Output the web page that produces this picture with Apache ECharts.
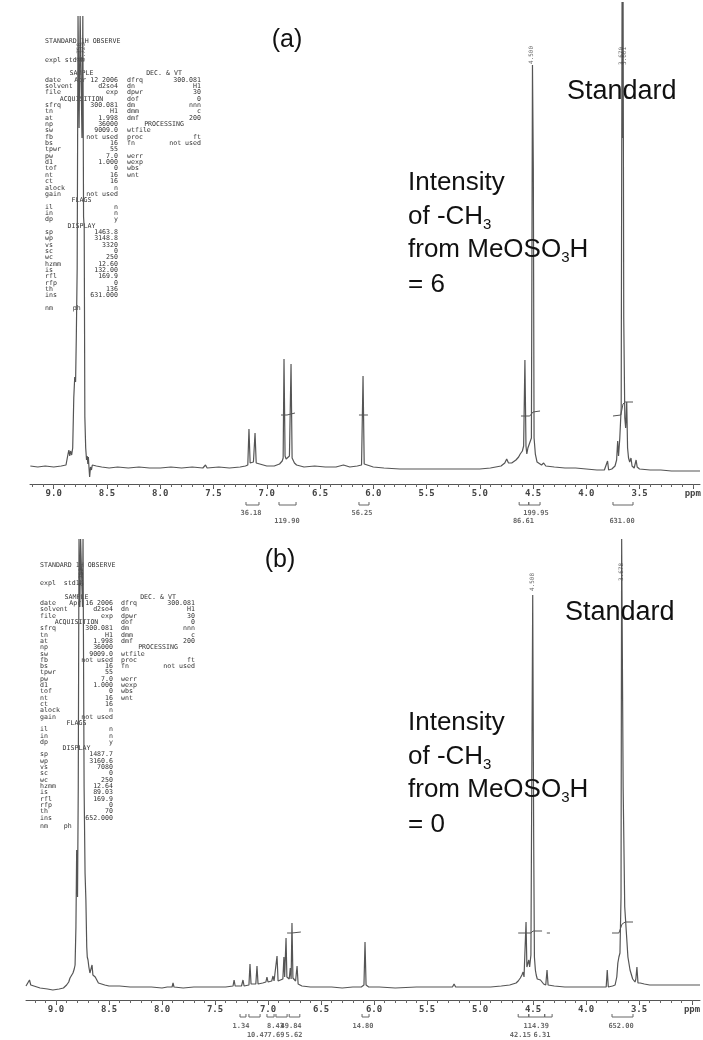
<!DOCTYPE html>
<html><head><meta charset="utf-8">
<script src="https://cdn.jsdelivr.net/npm/echarts@6/dist/echarts.min.js"></script>
<style>html,body{margin:0;padding:0;background:#fff;}#c{width:703px;height:1040px;}</style>
</head><body><div id="c"></div>
<script>
// ---------- tick labels ----------
const tickValues = [9.0, 8.5, 8.0, 7.5, 7.0, 6.5, 6.0, 5.5, 5.0, 4.5, 4.0, 3.5, 3.0];
const tickLabels = ['9.0', '8.5', '8.0', '7.5', '7.0', '6.5', '6.0', '5.5', '5.0', '4.5', '4.0', '3.5', 'ppm'];

// ---------- spectrum (a): [ppm, intensity] vertices ----------
const spectrumA = [
 [9.22,2],[9.15,1],[9.08,2],[9.00,1],[8.93,2],[8.885,3],[8.872,5],[8.866,14],[8.858,18],[8.85,12],[8.842,17],[8.832,13],
 [8.822,20],[8.812,70],[8.803,91],[8.795,86],[8.788,132],[8.78,200],[8.772,452],[8.762,340],[8.752,452],[8.742,452],
 [8.735,330],[8.727,452],[8.72,251],[8.714,240],[8.708,51],[8.70,20],[8.692,8],[8.686,12],[8.680,4],[8.675,11],[8.670,2],
 [8.663,-9],[8.655,1],[8.646,-2],[8.638,3],[8.625,1],[8.60,2],[8.55,1],[8.48,0],[8.40,1],[8.30,0],[8.20,1],[8.10,0],
 [8.00,0],[7.90,1],[7.80,0],[7.70,1],[7.60,0],[7.575,3],[7.56,0],[7.45,1],[7.35,0],[7.25,1],[7.20,2],[7.178,3],[7.167,39],
 [7.156,5],[7.14,4],[7.125,6],[7.11,35],[7.099,5],[7.085,3],[7.00,2],[6.93,2],[6.88,4],[6.855,7],[6.846,10],[6.838,109],
 [6.828,12],[6.818,9],[6.80,10],[6.787,12],[6.772,104],[6.762,10],[6.752,8],[6.74,5],[6.72,3],[6.65,1],[6.55,2],[6.45,1],
 [6.35,1],[6.28,3],[6.22,1],[6.15,2],[6.11,3],[6.096,92],[6.085,4],[6.07,2],[6.00,1],[5.90,0],[5.75,-1],[5.60,-1],[5.45,-1],
 [5.30,-1],[5.15,-1],[5.00,-1],[4.90,0],[4.80,2],[4.765,5],[4.747,9],[4.73,5],[4.70,5],[4.66,8],[4.635,11],[4.62,14],
 [4.60,17],[4.588,22],[4.576,108],[4.566,22],[4.558,14],[4.548,20],[4.53,22],[4.515,30],[4.505,403],[4.497,300],[4.49,30],
 [4.478,14],[4.468,16],[4.462,6],[4.45,4],[4.42,3],[4.40,5],[4.38,2],[4.30,1],[4.20,0],[4.10,0],[4.00,-1],[3.90,-2],
 [3.83,-2],[3.812,-1],[3.80,7],[3.79,-2],[3.76,-1],[3.73,2],[3.715,8],[3.705,27],[3.697,12],[3.685,30],[3.672,60],
 [3.664,466],[3.659,330],[3.654,466],[3.648,150],[3.638,50],[3.630,40],[3.620,66],[3.612,20],[3.603,10],[3.592,6],
 [3.58,10],[3.57,2],[3.55,0],[3.532,8],[3.522,1],[3.50,-1],[3.40,-2],[3.30,-2],[3.20,-3],[3.10,-3],[3.00,-3],[2.932,-3]
];

// ---------- spectrum (b) ----------
const spectrumB = [
 [9.283,1],[9.265,2],[9.25,7],[9.238,2],[9.22,0],[9.15,-1],[9.08,-2],[9.03,-3],[8.97,-2],[8.93,-1],[8.90,2],[8.88,5],
 [8.868,9],[8.855,11],[8.84,14],[8.828,18],[8.82,22],[8.812,60],[8.805,137],[8.797,90],[8.79,200],[8.783,448],[8.775,380],
 [8.768,448],[8.758,448],[8.75,380],[8.745,448],[8.735,200],[8.726,114],[8.718,87],[8.71,40],[8.705,30],[8.698,27],
 [8.69,20],[8.68,14],[8.67,18],[8.66,22],[8.652,12],[8.64,12],[8.63,10],[8.615,8],[8.60,4],[8.57,3],[8.54,2],[8.50,1],
 [8.40,1],[8.30,0],[8.20,0],[8.10,0],[8.00,-1],[7.95,0],[7.905,0],[7.896,4],[7.887,0],[7.80,-1],[7.70,0],[7.60,0],
 [7.50,0],[7.40,0],[7.33,1],[7.32,7],[7.31,1],[7.25,1],[7.236,7],[7.226,1],[7.18,2],[7.17,23],[7.16,3],[7.115,3],
 [7.104,21],[7.094,3],[7.05,4],[7.02,5],[7.01,10],[7.00,5],[6.965,6],[6.953,11],[6.943,6],[6.925,6],[6.915,31],[6.905,6],
 [6.86,8],[6.85,30],[6.843,10],[6.83,49],[6.822,10],[6.80,8],[6.79,19],[6.782,8],[6.774,64],[6.765,9],[6.74,6],[6.726,21],
 [6.716,3],[6.68,1],[6.60,0],[6.50,0],[6.40,0],[6.30,-1],[6.20,0],[6.12,0],[6.095,2],[6.085,45],[6.075,2],[6.05,0],
 [5.95,0],[5.80,-1],[5.60,0],[5.45,0],[5.35,0],[5.26,0],[5.245,3],[5.23,0],[5.10,0],[5.00,0],[4.90,0],[4.80,1],[4.72,2],
 [4.66,4],[4.64,6],[4.62,9],[4.605,12],[4.594,15],[4.585,10],[4.566,65],[4.558,20],[4.548,18],[4.54,27],[4.532,20],
 [4.52,32],[4.512,30],[4.503,392],[4.494,150],[4.487,30],[4.478,17],[4.47,12],[4.46,8],[4.43,7],[4.40,3],[4.38,2],
 [4.368,17],[4.358,2],[4.30,1],[4.20,0],[4.10,0],[4.00,0],[3.90,0],[3.81,0],[3.80,17],[3.79,0],[3.75,1],[3.726,2],
 [3.71,10],[3.70,24],[3.69,30],[3.68,34],[3.67,90],[3.664,448],[3.657,448],[3.65,200],[3.635,80],[3.623,60],[3.605,30],
 [3.585,17],[3.56,8],[3.538,5],[3.53,8],[3.52,20],[3.51,4],[3.49,4],[3.45,3],[3.40,2],[3.30,2],[3.20,2],[3.10,2],
 [3.00,2],[2.925,2]
];

// ---------- integral traces drawn over the peaks ----------
const integralTracesA = [
 [[6.866,53],[6.81,53],[6.80,55],[6.735,55]],
 [[6.134,53],[6.05,53]],
 [[4.613,52],[4.53,52],[4.50,56],[4.434,57]],
 [[3.749,52],[3.675,53],[3.655,64],[3.635,66],[3.561,66]]
];
const integralTracesB = [
 [[6.82,54],[6.775,54],[6.77,55],[6.69,55]],
 [[4.64,54],[4.52,54],[4.50,56],[4.415,56]],
 [[4.37,54],[4.34,54]],
 [[3.755,54],[3.69,54],[3.66,63],[3.63,65],[3.557,65]]
];

// ---------- integral ranges (ppm) and values below the axes ----------
const bracketsA = [[7.195,7.073],[6.885,6.725],[6.134,6.04],[4.63,4.54],[4.54,4.434],[3.749,3.561]];
const integralValuesA = [[7.148,0,'36.18'],[6.81,1,'119.90'],[6.106,0,'56.25'],[4.472,0,'199.95'],[4.590,1,'86.61'],[3.664,1,'631.00']];
const bracketsB = [[7.264,7.208],[7.18,7.075],[7.01,6.943],[6.925,6.82],[6.80,6.70],[6.113,6.047],[4.64,4.54],[4.54,4.39],[4.39,4.32],[3.755,3.557]];
const integralValuesB = [[7.255,0,'1.34'],[7.10,1,'10.47'],[6.93,0,'8.43'],[6.783,0,'49.84'],[6.925,1,'7.69'],[6.755,1,'5.62'],[6.104,0,'14.80'],[4.47,0,'114.39'],[4.62,1,'42.15'],[4.415,1,'6.31'],[3.67,0,'652.00']];

// ---------- peak position labels [ppm, height, text] ----------
const peakLabelsA = [[8.762,416,'8.758'],[8.725,416,'8.723'],[4.512,413,'4.500'],[3.672,412,'3.670'],[3.646,412,'3.661']];
const peakLabelsB = [[8.764,410,'8.752'],[4.510,405,'4.508'],[3.670,415,'3.678']];

// ---------- acquisition parameter printouts ----------
const paramRowsA = [
 ['#SAMPLE','','#DEC. & VT',''],['date','Apr 12 2006','dfrq','300.081'],['solvent','d2so4','dn','H1'],['file','exp','dpwr','30'],
 ['#ACQUISITION','','dof','0'],['sfrq','300.081','dm','nnn'],['tn','H1','dmm','c'],['at','1.998','dmf','200'],
 ['np','36000','#PROCESSING',''],['sw','9009.0','wtfile',''],['fb','not used','proc','ft'],['bs','16','fn','not used'],
 ['tpwr','55','',''],['pw','7.0','werr',''],['d1','1.000','wexp',''],['tof','0','wbs',''],['nt','16','wnt',''],
 ['ct','16','',''],['alock','n','',''],['gain','not used','',''],['#FLAGS','','',''],['il','n','',''],['in','n','',''],
 ['dp','y','',''],['#DISPLAY','','',''],['sp','1463.8','',''],['wp','3148.8','',''],['vs','3320','',''],['sc','0','',''],
 ['wc','250','',''],['hzmm','12.60','',''],['is','132.00','',''],['rfl','169.9','',''],['rfp','0','',''],['th','136','',''],
 ['ins','631.000','',''],['','','',''],['nm     ph','','','']
];
const paramRowsB = [
 ['#SAMPLE','','#DEC. & VT',''],['date','Apr 16 2006','dfrq','300.081'],['solvent','d2so4','dn','H1'],['file','exp','dpwr','30'],
 ['#ACQUISITION','','dof','0'],['sfrq','300.081','dm','nnn'],['tn','H1','dmm','c'],['at','1.998','dmf','200'],
 ['np','36000','#PROCESSING',''],['sw','9009.0','wtfile',''],['fb','not used','proc','ft'],['bs','16','fn','not used'],
 ['tpwr','55','',''],['pw','7.0','werr',''],['d1','1.000','wexp',''],['tof','0','wbs',''],['nt','16','wnt',''],
 ['ct','16','',''],['alock','n','',''],['gain','not used','',''],['#FLAGS','','',''],['il','n','',''],['in','n','',''],
 ['dp','y','',''],['#DISPLAY','','',''],['sp','1487.7','',''],['wp','3160.6','',''],['vs','7080','',''],['sc','0','',''],
 ['wc','250','',''],['hzmm','12.64','',''],['is','89.03','',''],['rfl','169.9','',''],['rfp','0','',''],['th','70','',''],
 ['ins','652.000','',''],['nm    ph','','','']
];
const headerA = ['STANDARD 1H OBSERVE', 'expl std1h'];
const headerB = ['STANDARD 1H OBSERVE', 'expl  std1h'];

// ---------- rendering ----------
const mono = '"DejaVu Sans Mono", "Liberation Mono", monospace';
const sans = '"Liberation Sans", Arial, sans-serif';
const minorTicks = [];
for (let i = 29; i <= 92; i++) minorTicks.push(i / 10);

const rangeA = [2.932, 9.223];
const rangeB = [2.925, 9.283];

function mainX(gi, r) {
  return {type:'value', gridIndex:gi, min:r[0], max:r[1], inverse:true, position:'bottom',
    axisLine:{show:true, onZero:false, lineStyle:{color:'#555', width:1}},
    axisTick:{show:true, customValues:tickValues, length:5, lineStyle:{color:'#555', width:1}},
    axisLabel:{show:true, customValues:tickValues, margin:5, fontFamily:mono, fontSize:9, fontWeight:'bold', color:'#444',
      hideOverlap:false, formatter: v => { const i = tickValues.findIndex(t => Math.abs(t - v) < 1e-6); return i >= 0 ? tickLabels[i] : ''; }},
    splitLine:{show:false}};
}
function minorX(gi, r) {
  return {type:'value', gridIndex:gi, min:r[0], max:r[1], inverse:true, position:'bottom',
    axisLine:{show:false, onZero:false}, axisTick:{show:true, customValues:minorTicks, length:3, lineStyle:{color:'#666', width:1}},
    axisLabel:{show:false}, splitLine:{show:false}};
}
function hiddenX(gi, r) { return {type:'value', gridIndex:gi, min:r[0], max:r[1], inverse:true, show:false}; }

const spectrumStyle = {color:'#555', width:1.2};
function lineSeries(data, xi, yi, style) {
  return {type:'line', xAxisIndex:xi, yAxisIndex:yi, data, showSymbol:false, symbol:'none', silent:true,
    lineStyle:style, animation:false, clip:true, z:3};
}
function peakLabelSeries(list, xi, yi) {
  return {type:'scatter', xAxisIndex:xi, yAxisIndex:yi, symbolSize:1, itemStyle:{color:'rgba(0,0,0,0)'}, silent:true, animation:false,
    data: list.map(d => ({value:[d[0], d[1]], name:d[2]})),
    label:{show:true, position:'inside', rotate:90, formatter:p => p.data.name, fontFamily:mono, fontSize:6, color:'#444'}, z:4};
}
function bracketSeries(list, xi, yi, yv) {
  return {type:'custom', xAxisIndex:xi, yAxisIndex:yi, data:list, silent:true, animation:false,
    encode:{x:[0,1]},
    renderItem:(params, api) => {
      const a = api.coord([api.value(0), yv]);
      const b = api.coord([api.value(1), yv]);
      return {type:'polyline', shape:{points:[[a[0], a[1]-3], [a[0], a[1]], [b[0], b[1]], [b[0], b[1]-3]]},
        style:{stroke:'#666', lineWidth:1, fill:null}};
    }};
}
function integralTextSeries(list, xi, yi, rowY) {
  return {type:'scatter', xAxisIndex:xi, yAxisIndex:yi, symbolSize:1, itemStyle:{color:'rgba(0,0,0,0)'}, silent:true, animation:false,
    data: list.map(d => ({value:[d[0], rowY[d[1]]], name:d[2]})),
    label:{show:true, position:'inside', formatter:p => p.data.name, fontFamily:mono, fontSize:7, fontWeight:'bold', color:'#444'},
    labelLayout:{hideOverlap:false}};
}

const series = [
  lineSeries(spectrumA, 0, 0, spectrumStyle),
  ...integralTracesA.map(t => lineSeries(t, 0, 0, {color:'#555', width:1})),
  peakLabelSeries(peakLabelsA, 0, 0),
  bracketSeries(bracketsA, 2, 1, 5),
  integralTextSeries(integralValuesA, 2, 1, [13, 21]),
  lineSeries(spectrumB, 3, 2, spectrumStyle),
  ...integralTracesB.map(t => lineSeries(t, 3, 2, {color:'#555', width:1})),
  peakLabelSeries(peakLabelsB, 3, 2),
  bracketSeries(bracketsB, 5, 3, 5),
  integralTextSeries(integralValuesB, 5, 3, [14, 23])
];

// parameter blocks as text
function paramBlock(rows, header, L, lastGap) {
  const els = [];
  const t = (text, x, y, align) => els.push({type:'text', x, y, silent:true, z:1,
    style:{text, x:0, y:0, fontFamily:mono, fontSize:6.6, fill:'#333', align, verticalAlign:'middle', textAlign:align, textVerticalAlign:'middle'}});
  t(header[0], L.x0, L.yTitle, 'left');
  t(header[1], L.x0, L.yExpl, 'left');
  rows.forEach((r, i) => {
    let y = L.yStart + i * L.dy;
    if (i === rows.length - 1 && lastGap) y = L.yStart + (i - 1) * L.dy + lastGap;
    if (r[0].startsWith('#')) t(r[0].slice(1), (L.x0 + L.xv) / 2, y, 'center');
    else if (r[0]) t(r[0], L.x0, y, 'left');
    if (r[1]) t(r[1], L.xv, y, 'right');
    if (r[2].startsWith('#')) t(r[2].slice(1), (L.x1 + L.xv1) / 2, y, 'center');
    else if (r[2]) t(r[2], L.x1, y, 'left');
    if (r[3]) t(r[3], L.xv1, y, 'right');
  });
  return els;
}
function bigText(text, x, y, size, align, rich) {
  return {type:'text', x, y, silent:true, z:10,
    style:{text, x:0, y:0, fontFamily:sans, fontSize:size, fill:'#111', align, verticalAlign:'middle', textAlign:align, textVerticalAlign:'middle', rich}};
}
const rich = {n:{fontFamily:sans, fontSize:26, fill:'#111', lineHeight:30}, s:{fontFamily:sans, fontSize:15, fill:'#111', lineHeight:17, verticalAlign:'bottom'}};
function intensityBlock(y0, val) {
  const lines = ['{n|Intensity}', '{n|of -CH}{s|3}', '{n|from MeOSO}{s|3}{n|H}', '{n|= ' + val + '}'];
  const ys = [0, 34, 67, 102];
  return lines.map((l, i) => bigText(l, 408, y0 + ys[i], 26, 'left', rich));
}

const graphic = [
  ...paramBlock(paramRowsA, headerA, {x0:45, xv:118, x1:127, xv1:201, yTitle:41, yExpl:60, yStart:73.5, dy:6.35}, 0),
  ...paramBlock(paramRowsB, headerB, {x0:40, xv:113, x1:121, xv1:195, yTitle:565, yExpl:583, yStart:597, dy:6.31}, 8),
  bigText('(a)', 287, 40, 25, 'center'),
  bigText('Standard', 567, 92, 27, 'left'),
  ...intensityBlock(183, '6'),
  bigText('(b)', 280, 560, 25, 'center'),
  bigText('Standard', 565, 613, 27, 'left'),
  ...intensityBlock(723, '0')
];

const gridBase = {containLabel:false, outerBoundsMode:'none'};
const option = {
  backgroundColor:'#fff',
  animation:false,
  grid:[
    Object.assign({left:30, right:3, top:0, height:484}, gridBase),
    Object.assign({left:30, right:3, top:500, height:25}, gridBase),
    Object.assign({left:26, right:3, top:520, height:480}, gridBase),
    Object.assign({left:26, right:3, top:1012, height:28}, gridBase)
  ],
  xAxis:[ mainX(0, rangeA), minorX(0, rangeA), hiddenX(1, rangeA), mainX(2, rangeB), minorX(2, rangeB), hiddenX(3, rangeB) ],
  yAxis:[
    {type:'value', gridIndex:0, min:-16, max:468, show:false},
    {type:'value', gridIndex:1, min:0, max:25, inverse:true, show:false},
    {type:'value', gridIndex:2, min:-13, max:467, show:false},
    {type:'value', gridIndex:3, min:0, max:28, inverse:true, show:false}
  ],
  series,
  graphic
};
const chart = echarts.init(document.getElementById('c'));
chart.setOption(option);
</script></body></html>
